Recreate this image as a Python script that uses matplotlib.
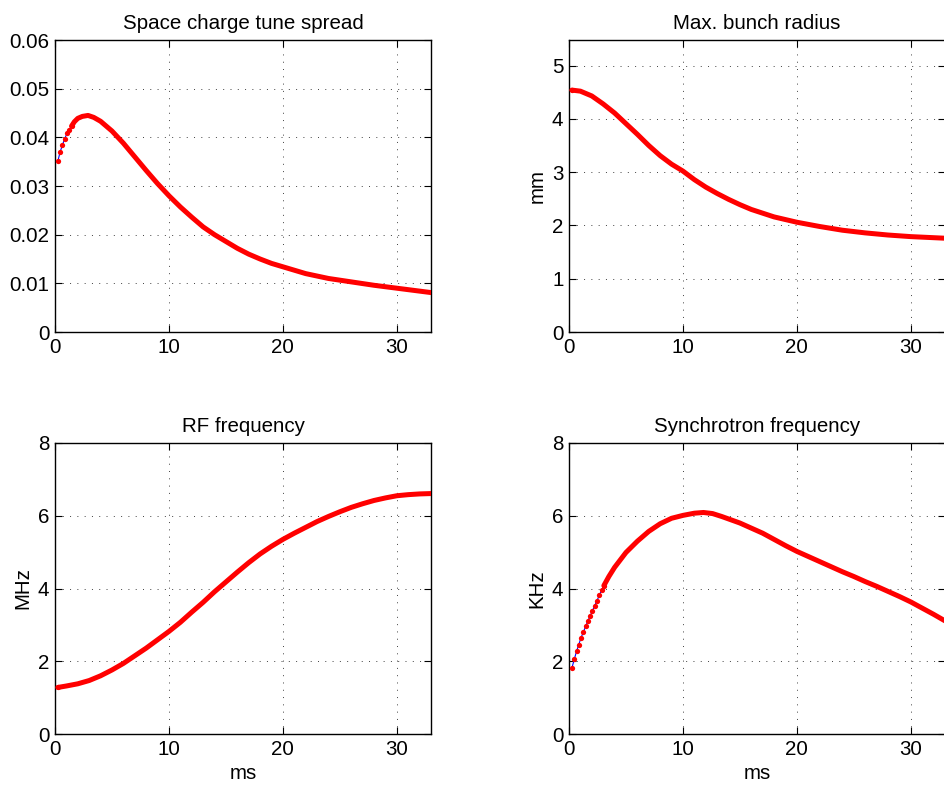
import matplotlib
matplotlib.use("Agg")
import matplotlib.pyplot as plt
from matplotlib.ticker import FuncFormatter

plt.rcParams['font.family'] = ['Liberation Sans', 'DejaVu Sans']
plt.rcParams['font.size'] = 14.8

# time axis readings (ms) and values for each panel
t_tune = [0.25, 0.45, 0.65, 0.85, 1.05, 1.25, 1.45, 1.7, 2, 2.4, 2.9, 3.4, 4, 5,
          6, 7, 8, 9, 10, 11, 12, 13, 14, 15, 16, 17, 18, 19, 20, 22, 24, 26, 28,
          30, 33]
tune_spread = [0.0351, 0.0370, 0.0384, 0.0397, 0.0408, 0.0416, 0.0423, 0.0432,
               0.0439, 0.0443, 0.0445, 0.0441, 0.0433, 0.0413, 0.0388, 0.0360,
               0.0332, 0.0305, 0.0280, 0.0257, 0.0236, 0.0216, 0.0200, 0.0186,
               0.0172, 0.0160, 0.0150, 0.0141, 0.0134, 0.0120, 0.0110, 0.0103,
               0.0096, 0.0090, 0.0081]

t_radius = [0.25, 1, 2, 3, 4, 5, 6, 7, 8, 9, 10, 11, 12, 13, 14, 15, 16, 17, 18,
            19, 20, 22, 24, 26, 28, 30, 33]
bunch_radius = [4.54, 4.52, 4.43, 4.28, 4.11, 3.91, 3.71, 3.50, 3.31, 3.15, 3.02,
                2.86, 2.72, 2.60, 2.49, 2.39, 2.30, 2.23, 2.16, 2.11, 2.06, 1.98,
                1.91, 1.86, 1.82, 1.79, 1.76]

t_rf = [0.25, 1, 2, 3, 4, 5, 6, 7, 8, 9, 10, 11, 12, 13, 14, 15, 16, 17, 18, 19,
        20, 21, 22, 23, 24, 25, 26, 27, 28, 29, 30, 31, 32, 33]
rf_freq = [1.28, 1.32, 1.38, 1.47, 1.60, 1.76, 1.94, 2.15, 2.36, 2.59, 2.82, 3.07,
           3.35, 3.62, 3.91, 4.18, 4.45, 4.71, 4.95, 5.16, 5.35, 5.52, 5.68, 5.84,
           5.98, 6.11, 6.23, 6.33, 6.42, 6.49, 6.55, 6.58, 6.60, 6.61]

t_sync = [0.26, 0.46, 0.66, 0.86, 1.06, 1.26, 1.46, 1.66, 1.86, 2.06, 2.26, 2.46,
          2.66, 2.86, 3.06, 3.5, 4, 5, 6, 7, 8, 9, 10, 11, 11.8, 12.6, 13.4, 14.2,
          15, 16, 17, 18, 19, 20, 21, 22, 23, 24, 25, 26, 27, 28, 29, 30, 31, 32, 33]
sync_freq = [1.82, 2.05, 2.27, 2.46, 2.65, 2.80, 2.96, 3.11, 3.25, 3.39, 3.53, 3.67,
             3.81, 3.95, 4.08, 4.33, 4.58, 4.99, 5.30, 5.57, 5.78, 5.93, 6.01, 6.07,
             6.09, 6.06, 5.98, 5.89, 5.80, 5.66, 5.52, 5.35, 5.18, 5.02, 4.88, 4.74,
             4.60, 4.46, 4.33, 4.19, 4.06, 3.92, 3.78, 3.63, 3.46, 3.29, 3.11]

fig = plt.figure(figsize=(9.44, 7.91), dpi=100)

W, H = 944.0, 791.0
ax1 = fig.add_axes([55 / W, (H - 332) / H, 376 / W, 292 / H])
ax2 = fig.add_axes([569 / W, (H - 332) / H, 376 / W, 292 / H])
ax3 = fig.add_axes([55 / W, (H - 734) / H, 376 / W, 291 / H])
ax4 = fig.add_axes([569 / W, (H - 734) / H, 376 / W, 291 / H])


def draw(ax, t, y, n_dots):
    # early samples show as separate dots joined by a thin blue line
    ax.plot(t[:n_dots], y[:n_dots], 'b-', lw=0.8, zorder=3)
    ax.plot(t[:n_dots], y[:n_dots], 'o', color='r', ms=3.8, mew=0, zorder=4)
    ax.plot(t[n_dots - 1:], y[n_dots - 1:], '-', color='r', lw=3.6,
            solid_capstyle='round', solid_joinstyle='round', zorder=4)


def style(ax, ylim, yticks):
    ax.set_xlim(0, 33)
    ax.set_ylim(*ylim)
    ax.set_xticks([0, 10, 20, 30])
    ax.set_yticks(yticks)
    ax.yaxis.set_major_formatter(FuncFormatter(lambda v, p: f'{v:g}'))
    ax.tick_params(direction='in', top=True, right=True, length=5, width=0.8,
                   pad=4)
    ax.grid(True, color='0.25', lw=0.7, linestyle=(0, (1, 6.5)))
    for s in ax.spines.values():
        s.set_linewidth(1.0)


draw(ax1, t_tune, tune_spread, 7)
style(ax1, (0, 0.06), [0, 0.01, 0.02, 0.03, 0.04, 0.05, 0.06])
ax1.set_title('Space charge tune spread', fontsize=14.8, pad=8)

draw(ax2, t_radius, bunch_radius, 1)
style(ax2, (0, 5.48), [0, 1, 2, 3, 4, 5])
ax2.set_title('Max. bunch radius', fontsize=14.8, pad=8)
ax2.set_ylabel('mm')

draw(ax3, t_rf, rf_freq, 1)
style(ax3, (0, 8), [0, 2, 4, 6, 8])
ax3.set_title('RF frequency', fontsize=14.8, pad=8)
ax3.set_ylabel('MHz')
ax3.set_xlabel('ms')

draw(ax4, t_sync, sync_freq, 15)
style(ax4, (0, 8), [0, 2, 4, 6, 8])
ax4.set_title('Synchrotron frequency', fontsize=14.8, pad=8)
ax4.set_ylabel('KHz')
ax4.set_xlabel('ms')

fig.savefig('out.png', dpi=100)
